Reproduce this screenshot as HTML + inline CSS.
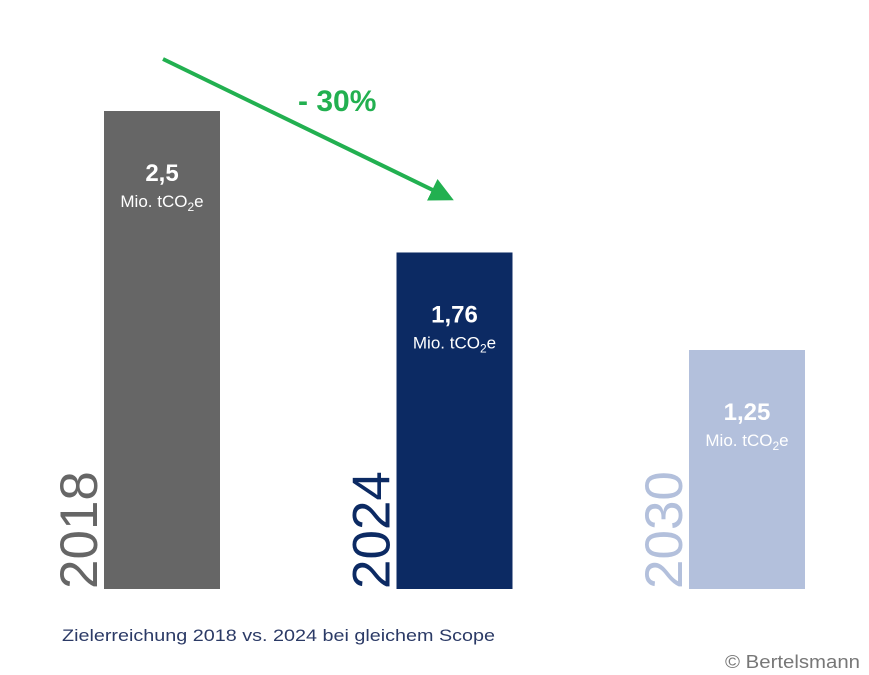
<!DOCTYPE html>
<html><head><meta charset="utf-8"><style>
body{margin:0;background:#fff;}
svg{display:block;font-family:"Liberation Sans",Arial,sans-serif;}
</style></head><body>
<svg id="chart" width="869" height="675" viewBox="0 0 869 675">
<defs><marker id="ah" markerWidth="6" markerHeight="6" refX="3" refY="3" orient="auto" markerUnits="strokeWidth"><path d="M0,0 L6,3 L0,6 Z" fill="#22b050"/></marker></defs>
<g id="bars"></g>
<line x1="163" y1="59" x2="443" y2="195" stroke="#22b050" stroke-width="4" marker-end="url(#ah)"/>
<text x="298" y="111" font-size="30" font-weight="bold" fill="#22b050">- 30%</text>
<text x="62" y="641" font-size="17" fill="#2b3a66" textLength="433" lengthAdjust="spacingAndGlyphs">Zielerreichung 2018 vs. 2024 bei gleichem Scope</text>
<text x="725" y="668" font-size="18" fill="#777" textLength="135" lengthAdjust="spacingAndGlyphs">© Bertelsmann</text>
</svg>
<script>
const years = ["2018","2024","2030"];
const values = [2.5, 1.76, 1.25];
const valueLabels = ["2,5","1,76","1,25"];
const colors = ["#666666","#0c2a63","#b3c0dc"];
const yearColors = ["#666666","#0c2a63","#b3c0dc"];
const ns="http://www.w3.org/2000/svg";
const base=589, scale=191.2;
const y=v=>base-v*scale;
const x=i=>104+i*292.5;
const bw=116;
const g=document.getElementById('bars');
function mk(t,a){const e=document.createElementNS(ns,t);for(const k in a)e.setAttribute(k,a[k]);g.appendChild(e);return e;}
years.forEach((yr,i)=>{
  const r=mk('rect',{x:x(i),y:y(values[i]),width:bw,height:base-y(values[i]),fill:colors[i]});
  
  
  const t=mk('text',{x:x(i)+bw/2,y:y(values[i])+70,'font-size':24,'font-weight':'bold',fill:'#fff','text-anchor':'middle'});
  t.textContent=valueLabels[i];
  
  
  const u=mk('text',{x:x(i)+bw/2,y:y(values[i])+96,'font-size':17,fill:'#fff','text-anchor':'middle'});
  u.innerHTML='Mio. tCO<tspan font-size="12" dy="4">2</tspan><tspan dy="-4">e</tspan>';
  
  
  const yl=mk('text',{x:0,y:0,'font-size':53,fill:yearColors[i],transform:`translate(${x(i)-7},${base}) rotate(-90)`});
  yl.textContent=yr;
  
  
});
</script>
</body></html>
